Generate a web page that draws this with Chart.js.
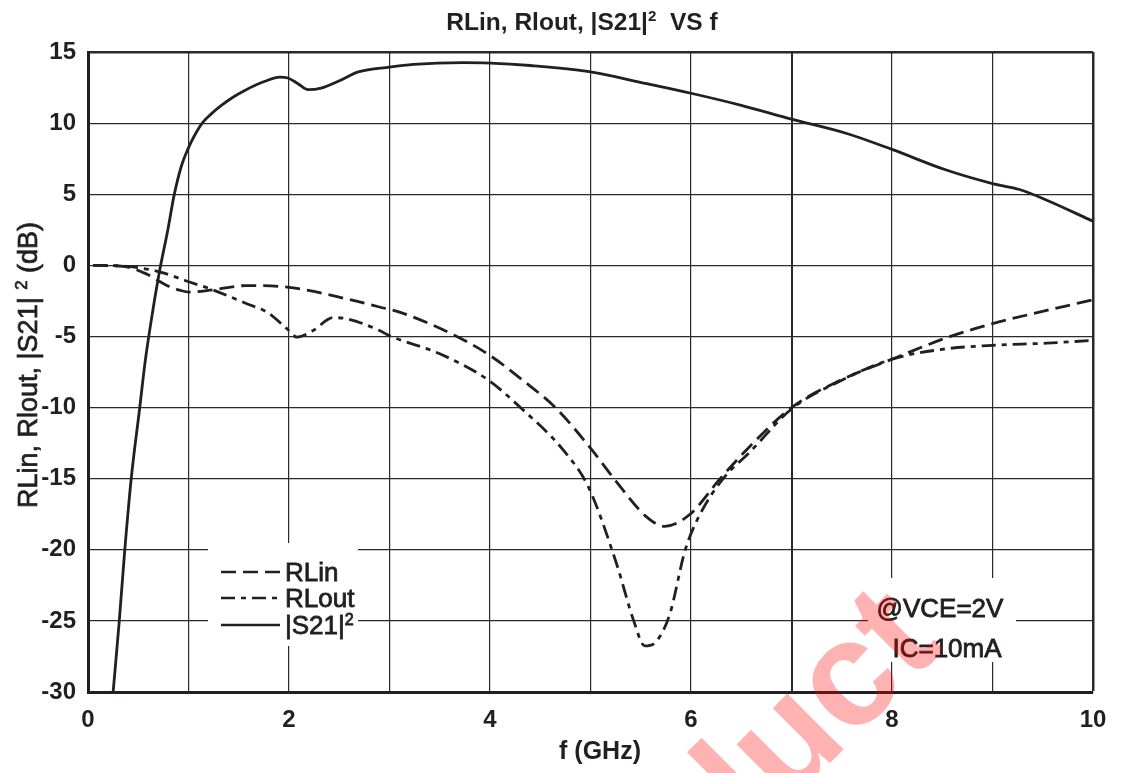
<!DOCTYPE html>
<html>
<head>
<meta charset="utf-8">
<script src="https://cdn.jsdelivr.net/npm/chart.js@4.4.0/dist/chart.umd.min.js"></script>
<style>
  html, body { margin: 0; padding: 0; background: #fff; }
</style>
</head>
<body>
<canvas id="chart" width="1131" height="773"></canvas>
<script>
// Sweep data, frequency in GHz, levels in dB
var freqS21 = [0.25, 0.31, 0.365, 0.43, 0.514, 0.57, 0.64, 0.713, 0.796, 0.856, 0.93, 0.995, 1.06, 1.144, 1.227, 1.327, 1.45, 1.56, 1.76, 1.91, 1.99, 2.09, 2.19, 2.32, 2.49, 2.69, 3.0, 3.24, 3.73, 4.0, 4.4, 5.0, 5.56, 6.0, 6.5, 7.0, 7.55, 8.0, 8.54, 9.0, 9.27, 9.54, 10.0];
var s21 = [-30, -25.1, -20.1, -15.0, -10.05, -6.7, -3.4, -0.37, 2.56, 4.9, 7.0, 8.19, 9.13, 10.07, 10.65, 11.24, 11.85, 12.3, 12.94, 13.24, 13.17, 12.77, 12.35, 12.46, 12.94, 13.6, 13.94, 14.13, 14.25, 14.22, 14.05, 13.6, 12.77, 12.1, 11.25, 10.28, 9.27, 8.15, 6.7, 5.75, 5.33, 4.58, 3.1];

var freqRLin = [0.05, 0.35, 0.58, 0.78, 0.92, 1.01, 1.25, 1.58, 1.98, 2.57, 2.9, 3.1, 3.67, 4.0, 4.33, 4.65, 5.0, 5.24, 5.56, 5.74, 5.99, 6.29, 6.59, 7.0, 7.48, 8.0, 8.54, 9.0, 9.54, 10.0];
var rlin = [0, -0.07, -0.6, -1.4, -1.76, -1.88, -1.71, -1.42, -1.53, -2.35, -2.93, -3.29, -5.0, -6.34, -8.1, -10.0, -12.85, -15.05, -17.7, -18.35, -17.5, -15.0, -12.7, -10.0, -8.1, -6.6, -5.1, -4.1, -3.17, -2.42];

var freqRLout = [0.05, 0.35, 0.72, 0.98, 1.21, 1.58, 1.78, 1.98, 2.08, 2.24, 2.44, 2.57, 2.9, 3.0, 3.5, 3.98, 4.3, 4.73, 4.98, 5.26, 5.43, 5.54, 5.66, 5.79, 5.94, 6.09, 6.32, 6.59, 7.0, 7.48, 8.0, 8.54, 9.0, 9.54, 10.0];
var rlout = [0, -0.05, -0.47, -1.1, -1.64, -2.7, -3.29, -4.46, -5.05, -4.58, -3.68, -3.75, -4.58, -4.95, -6.22, -8.05, -9.98, -13.0, -15.6, -21.0, -25.0, -26.76, -26.4, -24.5, -20.07, -17.5, -15.0, -13.1, -10.1, -8.15, -6.6, -5.87, -5.63, -5.47, -5.28];

var xTicksShown = [0, 2, 4, 6, 8, 10];
var seriesNames = ['RLin', 'RLout', '|S21|2'];
var biasNotes = ['@VCE=2V', 'IC=10mA'];

var INK = '#231f20';
var FONT = '"Liberation Sans", Arial, sans-serif';
var dashIn = [15, 7];
var dashOut = [14, 6, 5, 6];

function pairs(xs, ys) {
  return xs.map(function (x, i) { return { x: x, y: ys[i] }; });
}

// draws text pieces on one baseline, pieces flagged sup are raised and smaller
function drawRuns(c, runs, x, y, size, weight, align, heavy) {
  var w = 0;
  runs.forEach(function (r) {
    c.font = weight + ' ' + (r.sup ? size * 0.62 : size) + 'px ' + FONT;
    r.w = c.measureText(r.t).width;
    w += r.w;
  });
  var cx = align === 'center' ? x - w / 2 : x;
  c.textAlign = 'left';
  c.textBaseline = 'alphabetic';
  c.lineWidth = heavy || 0;
  c.strokeStyle = INK;
  runs.forEach(function (r) {
    c.font = weight + ' ' + (r.sup ? size * 0.62 : size) + 'px ' + FONT;
    var ry = r.sup ? y - size * 0.36 : y;
    c.fillText(r.t, cx, ry);
    if (heavy) c.strokeText(r.t, cx, ry);
    cx += r.w;
  });
}

// title, axis names, legend box, bias notes and the red stamp
var overlay = {
  id: 'overlay',
  afterDatasetsDraw: function (chart) {
    var c = chart.ctx;
    c.save();
    c.fillStyle = INK;

    drawRuns(c, [{ t: 'RLin, Rlout, |S21|' }, { t: '2', sup: true }, { t: '  VS f' }],
      582, 30, 24.5, 'bold', 'center');

    drawRuns(c, [{ t: 'f (GHz)' }], 600, 759, 25, 'bold', 'center');

    c.save();
    c.translate(37, 365);
    c.rotate(-Math.PI / 2);
    drawRuns(c, [{ t: 'RLin, Rlout, |S21| ' }, { t: '2', sup: true }, { t: ' (dB)' }],
      0, 0, 27, 'normal', 'center', 0.7);
    c.restore();

    // legend panel
    c.fillStyle = '#fff';
    c.fillRect(208, 543, 150, 103);
    var dashes = [dashIn, dashOut, []];
    var rows = [572, 598, 625];
    var labels = [[{ t: 'RLin' }], [{ t: 'RLout' }], [{ t: '|S21|' }, { t: '2', sup: true }]];
    c.strokeStyle = INK;
    for (var i = 0; i < 3; i++) {
      c.lineWidth = 2.6;
      c.setLineDash(dashes[i]);
      c.beginPath();
      c.moveTo(221, rows[i]);
      c.lineTo(280, rows[i]);
      c.stroke();
      c.setLineDash([]);
      c.fillStyle = INK;
      drawRuns(c, labels[i], 285, rows[i] + 9, 26, 'normal', 'left', 0.8);
    }

    // bias conditions
    c.fillStyle = '#fff';
    c.fillRect(868, 578, 148, 84);
    c.fillStyle = INK;
    drawRuns(c, [{ t: biasNotes[0] }], 940, 617, 26, 'normal', 'center', 0.8);
    drawRuns(c, [{ t: biasNotes[1] }], 947, 657, 26, 'normal', 'center', 0.8);
    c.restore();
  },
  afterDraw: function (chart) {
    var c = chart.ctx;
    c.save();
    c.translate(945, 648);
    c.rotate(-45 * Math.PI / 180);
    c.globalAlpha = 0.3;
    c.fillStyle = '#ff0000';
    c.font = 'bold 150px ' + FONT;
    c.textAlign = 'right';
    c.textBaseline = 'alphabetic';
    c.fillText('Product', 0, 0);
    c.restore();
  }
};

var lineBase = {
  borderColor: INK,
  borderWidth: 2.8,
  pointRadius: 0,
  fill: false,
  cubicInterpolationMode: 'monotone'
};

new Chart(document.getElementById('chart'), {
  type: 'line',
  data: {
    datasets: [
      Object.assign({ label: seriesNames[0], data: pairs(freqRLin, rlin), borderDash: dashIn }, lineBase),
      Object.assign({ label: seriesNames[1], data: pairs(freqRLout, rlout), borderDash: dashOut }, lineBase),
      Object.assign({ label: seriesNames[2], data: pairs(freqS21, s21) }, lineBase)
    ]
  },
  options: {
    responsive: false,
    animation: false,
    devicePixelRatio: 1,
    layout: { padding: { top: 52, right: 38, left: 0, bottom: 0 } },
    plugins: {
      legend: { display: false },
      title: { display: false },
      tooltip: { enabled: false }
    },
    scales: {
      x: {
        type: 'linear',
        min: 0,
        max: 10,
        afterFit: function (s) { s.height = 81; },
        border: { color: INK, width: 3 },
        grid: {
          color: '#2a2a2a',
          drawTicks: false,
          lineWidth: function (ctx) {
            var v = ctx.tick && ctx.tick.value;
            if (v === 10) return 2.5;
            if (v === 7) return 2;
            return 1.2;
          }
        },
        ticks: {
          stepSize: 1,
          padding: 14,
          color: INK,
          font: { family: FONT, size: 24, weight: 'bold' },
          callback: function (v) { return xTicksShown.indexOf(v) >= 0 ? String(v) : ''; }
        }
      },
      y: {
        min: -30,
        max: 15,
        afterFit: function (s) { s.width = 88; },
        border: { color: INK, width: 3 },
        grid: {
          color: '#2a2a2a',
          drawTicks: false,
          lineWidth: function (ctx) {
            return ctx.tick && ctx.tick.value === 15 ? 2.5 : 1.2;
          }
        },
        ticks: {
          stepSize: 5,
          padding: 12,
          color: INK,
          font: { family: FONT, size: 24, weight: 'bold' }
        }
      }
    }
  },
  plugins: [overlay]
});
</script>
</body>
</html>
